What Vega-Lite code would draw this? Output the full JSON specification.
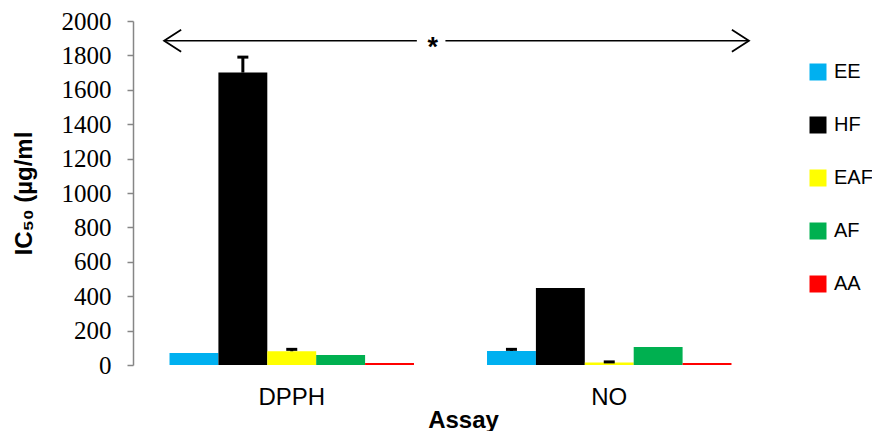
{
  "$schema": "https://vega.github.io/schema/vega-lite/v6.json",
  "autosize": {"type": "none"},
  "padding": {"left": 133, "top": 21, "right": 104, "bottom": 66},
  "width": 635,
  "height": 344,
  "background": "white",
  "config": {"view": {"stroke": null}},
  "datasets": {
    "bars": [
      {"assay": "DPPH", "fraction": "EE", "value": 70},
      {"assay": "DPPH", "fraction": "HF", "value": 1700, "hi": 1790},
      {"assay": "DPPH", "fraction": "EAF", "value": 80, "hi": 91},
      {"assay": "DPPH", "fraction": "AF", "value": 58},
      {"assay": "DPPH", "fraction": "AA", "value": 12},
      {"assay": "NO", "fraction": "EE", "value": 82, "hi": 91},
      {"assay": "NO", "fraction": "HF", "value": 448},
      {"assay": "NO", "fraction": "EAF", "value": 15, "hi": 18},
      {"assay": "NO", "fraction": "AF", "value": 105},
      {"assay": "NO", "fraction": "AA", "value": 12}
    ],
    "line": [
      {"seg": "a", "pos": 0.049, "y": 1885},
      {"seg": "a", "pos": 0.447, "y": 1885},
      {"seg": "b", "pos": 0.492, "y": 1885},
      {"seg": "b", "pos": 0.970, "y": 1885}
    ],
    "heads": [
      {"pos": 0.049, "y": 1885, "dir": "left"},
      {"pos": 0.970, "y": 1885, "dir": "right"}
    ],
    "star": [{"pos": 0.472, "y": 1885, "label": "*"}]
  },
  "layer": [
    {
      "layer": [
        {
          "data": {"name": "bars"},
          "mark": {"type": "bar"},
          "encoding": {
            "x": {
              "field": "assay", "type": "nominal", "sort": ["DPPH", "NO"],
              "scale": {"paddingInner": 0.23, "paddingOuter": 0.115},
              "axis": {
                "title": "Assay", "domain": false, "ticks": false, "labelAngle": 0,
                "labelFont": "Liberation Sans", "labelFontSize": 24, "labelColor": "#000",
                "labelPadding": 20,
                "titleFont": "Liberation Sans", "titleFontSize": 24, "titleFontWeight": "bold",
                "titleColor": "#000", "titleX": 330, "titleY": 43
              }
            },
            "xOffset": {
              "field": "fraction", "type": "nominal", "sort": ["EE", "HF", "EAF", "AF", "AA"],
              "scale": {"paddingInner": 0, "paddingOuter": 0}
            },
            "y": {
              "field": "value", "type": "quantitative",
              "scale": {"domain": [0, 2000], "nice": false},
              "axis": {"title": "IC₅₀ (µg/ml", "values": [0, 200, 400, 600, 800, 1000, 1200, 1400, 1600, 1800, 2000], "format": "d", "labelOverlap": false, "grid": false, "domainColor": "#868686", "domainWidth": 1.5, "tickColor": "#868686", "tickSize": 6, "tickWidth": 1.5, "labelFont": "Liberation Serif", "labelFontSize": 25, "labelColor": "#000", "labelPadding": 16, "titleFont": "Liberation Sans", "titleFontSize": 24, "titleFontWeight": "bold", "titleColor": "#000", "titlePadding": 25}
            },
            "color": {
              "field": "fraction", "type": "nominal",
              "sort": ["EE", "HF", "EAF", "AF", "AA"],
              "scale": {"domain": ["EE", "HF", "EAF", "AF", "AA"], "range": ["#00B0F0", "#000000", "#FFFF00", "#00B050", "#FF0000"]},
              "legend": {
                "title": null, "orient": "none", "legendX": 675, "legendY": 41,
                "padding": 0, "symbolType": "square", "symbolSize": 289,
                "symbolStrokeWidth": 0, "rowPadding": 33, "labelOffset": 6,
                "labelFont": "Liberation Sans", "labelFontSize": 20, "labelColor": "#000"
              }
            }
          }
        },
        {
          "data": {"name": "bars"},
          "transform": [{"filter": "isValid(datum.hi)"}],
          "mark": {"type": "rule", "color": "#000", "strokeWidth": 3},
          "encoding": {
            "x": {"field": "assay", "type": "nominal", "sort": ["DPPH", "NO"]},
            "xOffset": {"field": "fraction", "type": "nominal", "sort": ["EE", "HF", "EAF", "AF", "AA"]},
            "y": {"field": "value", "type": "quantitative", "axis": {"title": "IC₅₀ (µg/ml", "values": [0, 200, 400, 600, 800, 1000, 1200, 1400, 1600, 1800, 2000], "format": "d", "labelOverlap": false, "grid": false, "domainColor": "#868686", "domainWidth": 1.5, "tickColor": "#868686", "tickSize": 6, "tickWidth": 1.5, "labelFont": "Liberation Serif", "labelFontSize": 25, "labelColor": "#000", "labelPadding": 16, "titleFont": "Liberation Sans", "titleFontSize": 24, "titleFontWeight": "bold", "titleColor": "#000", "titlePadding": 25}},
            "y2": {"field": "hi"}
          }
        },
        {
          "data": {"name": "bars"},
          "transform": [{"filter": "isValid(datum.hi)"}],
          "mark": {"type": "tick", "color": "#000", "size": 11, "thickness": 3, "opacity": 1},
          "encoding": {
            "x": {"field": "assay", "type": "nominal", "sort": ["DPPH", "NO"]},
            "xOffset": {"field": "fraction", "type": "nominal", "sort": ["EE", "HF", "EAF", "AF", "AA"]},
            "y": {"field": "hi", "type": "quantitative", "axis": {"title": "IC₅₀ (µg/ml", "values": [0, 200, 400, 600, 800, 1000, 1200, 1400, 1600, 1800, 2000], "format": "d", "labelOverlap": false, "grid": false, "domainColor": "#868686", "domainWidth": 1.5, "tickColor": "#868686", "tickSize": 6, "tickWidth": 1.5, "labelFont": "Liberation Serif", "labelFontSize": 25, "labelColor": "#000", "labelPadding": 16, "titleFont": "Liberation Sans", "titleFontSize": 24, "titleFontWeight": "bold", "titleColor": "#000", "titlePadding": 25}}
          }
        }
      ]
    },
    {
      "layer": [
        {
          "data": {"name": "line"},
          "mark": {"type": "line", "color": "#000", "strokeWidth": 1.6},
          "encoding": {
            "x": {"field": "pos", "type": "quantitative", "scale": {"domain": [0, 1], "nice": false, "zero": false}, "axis": null},
            "y": {"field": "y", "type": "quantitative", "axis": null},
            "detail": {"field": "seg"}
          }
        },
        {
          "data": {"name": "heads"},
          "mark": {"type": "point", "filled": false, "stroke": "#000", "strokeWidth": 1.8, "size": 484, "opacity": 1},
          "encoding": {
            "x": {"field": "pos", "type": "quantitative", "scale": {"domain": [0, 1], "nice": false, "zero": false}, "axis": null},
            "y": {"field": "y", "type": "quantitative", "axis": null},
            "shape": {
              "field": "dir", "type": "nominal",
              "scale": {"domain": ["left", "right"], "range": ["M1.55,-1L0,0L1.55,1", "M-1.55,-1L0,0L-1.55,1"]},
              "legend": null
            }
          }
        },
        {
          "data": {"name": "star"},
          "mark": {"type": "text", "font": "Liberation Sans", "fontSize": 27, "fontWeight": "bold", "color": "#000", "baseline": "middle", "dy": 7},
          "encoding": {
            "x": {"field": "pos", "type": "quantitative", "scale": {"domain": [0, 1], "nice": false, "zero": false}, "axis": null},
            "y": {"field": "y", "type": "quantitative", "axis": null},
            "text": {"field": "label"}
          }
        }
      ]
    }
  ],
  "resolve": {"scale": {"x": "independent"}, "axis": {"y": "independent"}}
}
